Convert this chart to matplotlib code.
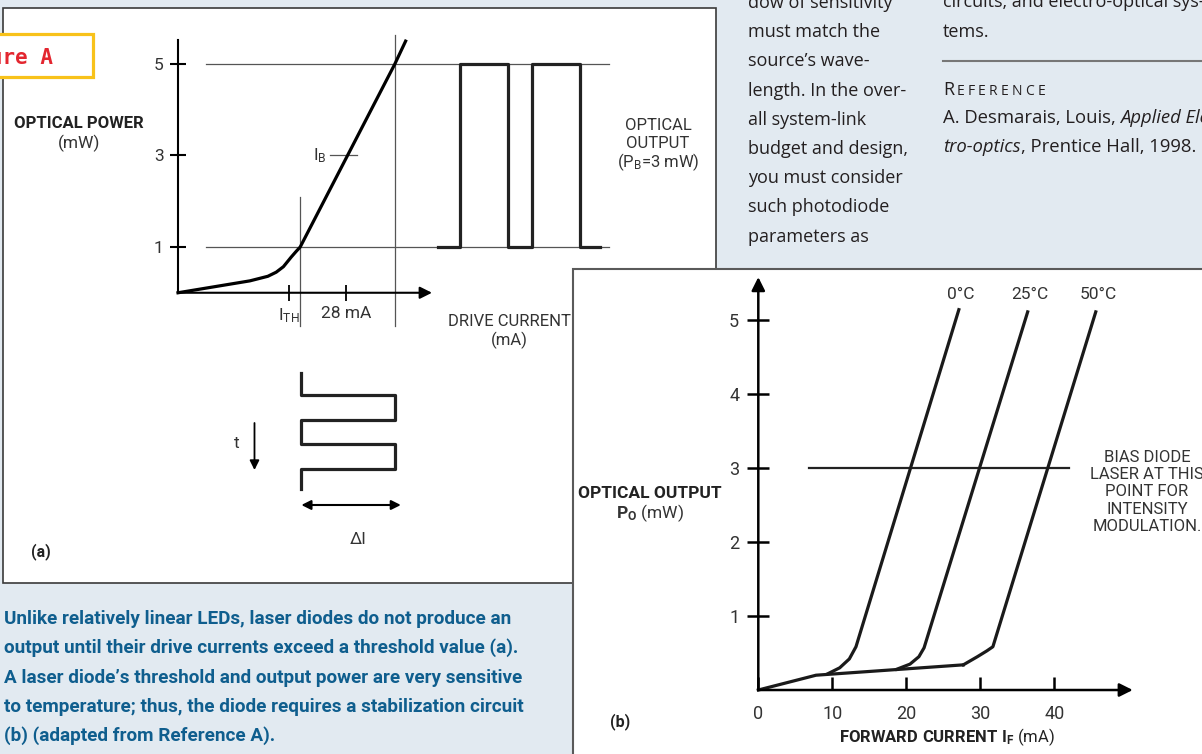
import matplotlib
matplotlib.use('Agg')
import matplotlib.pyplot as plt
from matplotlib import font_manager
from matplotlib.patches import Rectangle

W, H = 1202, 754

# ---------------- data ----------------
# (a) light-current curve of the laser diode (drive current mA, power mW)
a_current = [0, 12.0, 15.0, 16.4, 17.6, 18.9, 19.7, 20.4, 36.2, 38.0]
a_power = [0, 0.26, 0.36, 0.45, 0.57, 0.78, 0.90, 1.0, 5.0, 5.5]
a_levels = [1, 5]            # low / high optical power of the modulation
a_swing = [20.4, 36.2]       # drive currents at those levels
a_yticks = [1, 3, 5]
a_xticks = [18.5, 28.0]
a_xlabels = [r'$\mathrm{I_{TH}}$', '28 mA']
a_bias = 3
a_bias_span = [25.4, 29.9]

# optical output pulse train
pulse_x = [43.4, 47.1, 47.1, 55.1, 55.1, 59.1, 59.1, 67.1, 67.1, 70.5]
pulse_p = [1, 1, 5, 5, 1, 1, 5, 5, 1, 1]

# drive current swing against time
drive_i = [20.5, 20.5, 36.2, 36.2, 20.5, 20.5, 36.2, 36.2, 20.5, 20.5]
drive_t = [0, 0.86, 0.86, 1.88, 1.88, 2.84, 2.84, 3.84, 3.84, 4.64]

# (b) optical output vs forward current at three temperatures
b_base_i = [0, 7.8, 27.7]
b_base_p = [0, 0.2, 0.34]
b_temps = ['0°C', '25°C', '50°C']
b_curve_i = [[9.4, 11.0, 12.3, 13.2, 27.1],
             [18.7, 20.5, 21.7, 22.4, 36.4],
             [27.7, 29.6, 30.9, 31.7, 45.6]]
b_curve_p = [[0.22, 0.30, 0.42, 0.585, 5.14],
             [0.28, 0.35, 0.45, 0.57, 5.11],
             [0.34, 0.45, 0.53, 0.585, 5.11]]
b_xticks = [0, 10, 20, 30, 40]
b_yticks = [1, 2, 3, 4, 5]
b_bias = 3
b_bias_span = [6.9, 42.0]

# ---------------- fonts / colours ----------------
names = {f.name for f in font_manager.fontManager.ttflist}
NARROW = 'Liberation Sans Narrow' in names
DIA = 'Roboto'          # diagram lettering
BODY = 'Open Sans'      # magazine body text
BG = '#e2eaf1'
INK = '#1a1a1a'
LBL = '#333333'
CAP = '#0f5e8e'

plt.rcParams['font.family'] = [DIA, 'DejaVu Sans']
plt.rcParams['mathtext.fontset'] = 'custom'
plt.rcParams['mathtext.rm'] = DIA
plt.rcParams['mathtext.bf'] = DIA + ':bold'
plt.rcParams['mathtext.it'] = DIA + ':italic'

fig = plt.figure(figsize=(W / 100, H / 100), dpi=100, facecolor=BG)

page = fig.add_axes([0, 0, 1, 1])
page.set_xlim(0, W)
page.set_ylim(H, 0)
page.axis('off')
page.set_zorder(0)


def px_axes(x0, y0, x1, y1):
    ax = fig.add_axes([x0 / W, 1 - y1 / H, (x1 - x0) / W, (y1 - y0) / H])
    ax.set_facecolor('none')
    ax.set_zorder(2)
    return ax


# panels
page.add_patch(Rectangle((3, 8), 713, 575, facecolor='white', edgecolor='#3a3a3a', lw=1.2))
page.add_patch(Rectangle((573, 269), 700, 600, facecolor='white', edgecolor='#5a5a5a', lw=1.5))
page.add_patch(Rectangle((-10, 34), 103, 43, facecolor='white', edgecolor='#f8c21a', lw=2.3))
page.text(53, 57, 'Figure A', ha='right', va='center', color='#e3262f',
          family='DejaVu Sans Mono', weight='bold', fontsize=15)

# ---------------- (a) L-I curve ----------------
axa = px_axes(160, 30, 620, 330)
axa.set_xlim(-3.005, 73.79)
axa.set_ylim(-0.814, 5.743)
for s in ['top', 'right']:
    axa.spines[s].set_visible(False)
axa.spines['left'].set_position(('data', 0))
axa.spines['left'].set_bounds(0, 5.52)
axa.spines['left'].set_linewidth(1.5)
axa.spines['bottom'].set_position(('data', 0))
axa.spines['bottom'].set_visible(False)
axa.set_yticks(a_yticks)
axa.set_xticks(a_xticks, a_xlabels)
axa.tick_params(axis='y', direction='inout', length=11.5, width=1.5, pad=4.5,
                labelsize=12.5, labelcolor=LBL)
axa.tick_params(axis='x', direction='inout', length=11.5, width=1.3, pad=4,
                labelsize=12.5, labelcolor=LBL)
axa.annotate('', xy=(42.4, 0), xytext=(0, 0),
             arrowprops=dict(arrowstyle='-|>', color='black', lw=1.5,
                             mutation_scale=18, shrinkA=0, shrinkB=0))
for lv in a_levels:
    axa.plot([4.7, 72.0], [lv, lv], color='#555555', lw=0.9)
axa.plot([a_swing[0], a_swing[0]], [-0.73, 2.09], color='#555555', lw=0.9)
axa.plot([a_swing[1], a_swing[1]], [-0.73, 5.63], color='#555555', lw=0.9)
axa.plot(a_bias_span, [a_bias, a_bias], color='#555555', lw=0.9)
axa.plot(a_current, a_power, color='black', lw=2.3, solid_joinstyle='round')
axa.plot(pulse_x, pulse_p, color='#222222', lw=2.3)
axa.text(24.8, a_bias, r'$\mathrm{I_B}$', ha='right', va='center', fontsize=12.5, color=LBL)

# drive current waveform
axw = px_axes(160, 360, 620, 560)
axw.set_xlim(-3.005, 73.79)
axw.set_ylim(7.48, -0.52)
axw.axis('off')
axw.plot(drive_i, drive_t, color='#222222', lw=2.3)
axw.annotate('', xy=(12.77, 3.88), xytext=(12.77, 2.0),
             arrowprops=dict(arrowstyle='-|>', color='black', lw=1.3,
                             mutation_scale=14, shrinkA=0, shrinkB=0))
axw.annotate('', xy=(37.2, 5.28), xytext=(20.6, 5.28),
             arrowprops=dict(arrowstyle='<|-|>', color='black', lw=1.5,
                             mutation_scale=14, shrinkA=0, shrinkB=0))
axw.text(9.77, 2.8, 't', ha='center', va='center', fontsize=12.5, color=LBL)
axw.text(30.05, 6.68, 'ΔI', ha='center', va='center', fontsize=12.5, color=LBL)

page.text(79, 123, 'OPTICAL POWER', ha='center', va='center', fontsize=12,
          weight='bold', color='#222222')
page.text(79, 143, '(mW)', ha='center', va='center', fontsize=12.5, color=LBL)
page.text(509, 322, 'DRIVE CURRENT', ha='center', va='center', fontsize=12, color=LBL)
page.text(509, 340, '(mA)', ha='center', va='center', fontsize=12, color=LBL)
page.text(658, 125, 'OPTICAL', ha='center', va='center', fontsize=12, color=LBL)
page.text(658, 143, 'OUTPUT', ha='center', va='center', fontsize=12, color=LBL)
page.text(658, 162, r'($\mathrm{P_B}$=3 mW)', ha='center', va='center', fontsize=12, color=LBL)
page.text(41, 552, '(a)', ha='center', va='center', fontsize=11.5, weight='bold', color='#222222')

# ---------------- (b) temperature dependence ----------------
axb = px_axes(700, 272, 1150, 700)
axb.set_xlim(-7.878, 52.93)
axb.set_ylim(-0.135, 5.649)
for s in ['top', 'right']:
    axb.spines[s].set_visible(False)
axb.spines['left'].set_position(('data', 0))
axb.spines['left'].set_visible(False)
axb.spines['bottom'].set_position(('data', 0))
axb.spines['bottom'].set_visible(False)
axb.set_xticks(b_xticks)
axb.set_yticks(b_yticks)
axb.tick_params(axis='y', direction='inout', length=16.5, width=1.8, pad=5.5,
                labelsize=13, labelcolor=LBL)
axb.tick_params(axis='x', direction='in', length=9.5, width=1.8, pad=11,
                labelsize=13, labelcolor=LBL)
axb.annotate('', xy=(0, 5.58), xytext=(0, 0),
             arrowprops=dict(arrowstyle='-|>', color='black', lw=1.8,
                             mutation_scale=20, shrinkA=0, shrinkB=0))
axb.annotate('', xy=(50.6, 0), xytext=(0, 0),
             arrowprops=dict(arrowstyle='-|>', color='black', lw=1.8,
                             mutation_scale=20, shrinkA=0, shrinkB=0))
axb.plot(b_bias_span, [b_bias, b_bias], color='#222222', lw=1.6)
axb.plot(b_base_i, b_base_p, color=INK, lw=2.3, solid_joinstyle='round')
for name, ci, cp in zip(b_temps, b_curve_i, b_curve_p):
    axb.plot(ci, cp, color=INK, lw=2.3, solid_joinstyle='round')
    axb.text(ci[-1] + 0.3, 5.34, name, ha='center', va='center', fontsize=12.5, color=LBL)

page.text(1147, 492, 'BIAS DIODE\nLASER AT THIS\nPOINT FOR\nINTENSITY\nMODULATION.',
          ha='center', va='center', fontsize=12, color=LBL, linespacing=1.18)
page.text(650, 493, 'OPTICAL OUTPUT', ha='center', va='center', fontsize=12.5,
          weight='bold', color='#222222')
page.text(650, 513, r'$\mathbf{P_O}$ (mW)', ha='center', va='center', fontsize=12.5, color=LBL)
page.text(947, 737, r'$\mathbf{FORWARD\ CURRENT\ I_F}$ (mA)', ha='center', va='center',
          fontsize=12, color='#222222')
page.text(620, 722, '(b)', ha='center', va='center', fontsize=11.5, weight='bold', color='#222222')

# ---------------- caption ----------------
cap_lines = ['Unlike relatively linear LEDs, laser diodes do not produce an',
             'output until their drive currents exceed a threshold value (a).',
             'A laser diode\u2019s threshold and output power are very sensitive',
             'to temperature; thus, the diode requires a stabilization circuit',
             '(b) (adapted from Reference A).']
cap_family = 'Liberation Sans Narrow' if NARROW else 'Roboto'
cap_size = 15.5 if NARROW else 13.6
for i, line in enumerate(cap_lines):
    page.text(4, 624 + i * 29.3, line, ha='left', va='baseline', color=CAP,
              family=cap_family, weight='bold', fontsize=cap_size)

# ---------------- body text column ----------------
col1 = ['dow of sensitivity', 'must match the', 'source\u2019s wave-',
        'length. In the over-', 'all system-link', 'budget and design,',
        'you must consider', 'such photodiode', 'parameters as']
for i, line in enumerate(col1):
    page.text(748, 8 + i * 29.2, line, ha='left', va='baseline', color='#231f20',
              family=BODY, fontsize=13)

page.text(943, 7, 'circuits, and electro-optical sys-', ha='left', va='baseline',
          color='#231f20', family=BODY, fontsize=13)
page.text(943, 37, 'tems.', ha='left', va='baseline', color='#231f20', family=BODY, fontsize=13)
page.plot([943, W], [61, 61], color='#777777', lw=1.5)

renderer = fig.canvas.get_renderer()


def run_text(x, y, pieces):
    # pieces: (text, fontsize, style, tracking)
    for s, fs, st, track in pieces:
        t = page.text(x, y, s, ha='left', va='baseline', color='#231f20',
                      family=BODY, fontsize=fs, style=st)
        x += t.get_window_extent(renderer).width + track


run_text(943, 95, [('R', 13, 'normal', 2.5)] +
         [(c, 10, 'normal', 3.2) for c in 'EFERENCE'])
run_text(943, 123, [('A. Desmarais, Louis, ', 13.3, 'normal', 0),
                    ('Applied Elec-', 13.3, 'italic', 0)])
run_text(943, 152, [('tro-optics', 13.3, 'italic', 0),
                    (', Prentice Hall, 1998.', 13.3, 'normal', 0)])

fig.savefig('out.png', dpi=100, facecolor=BG)
